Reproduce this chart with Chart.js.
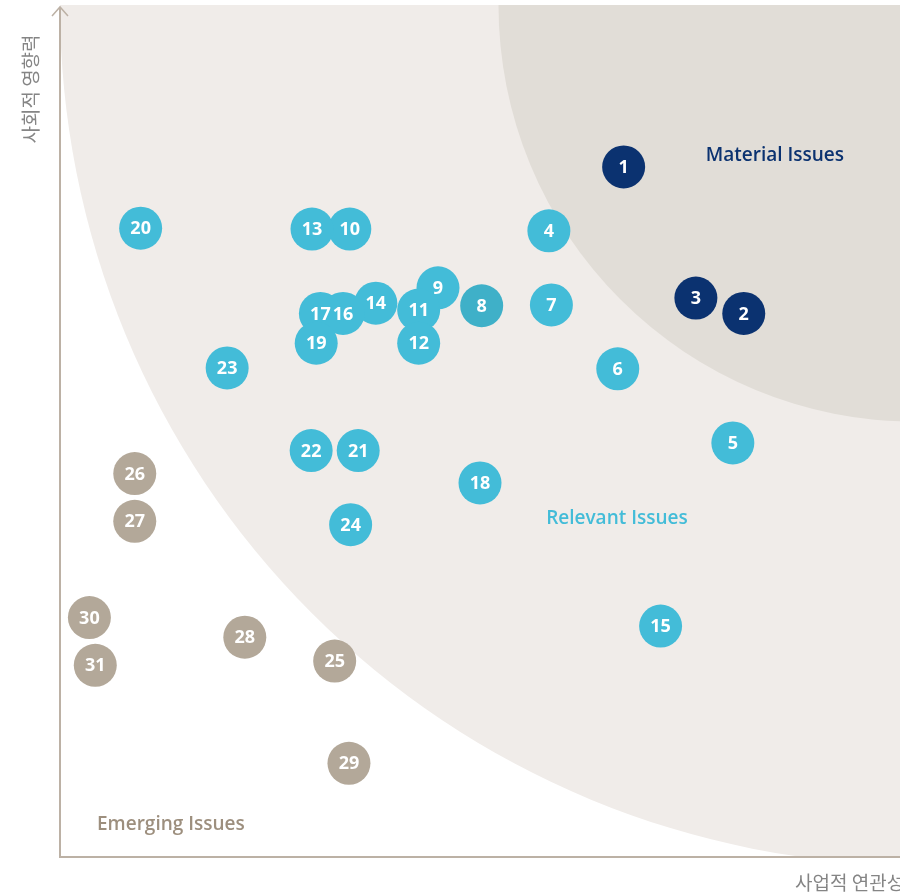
<!DOCTYPE html>
<html>
<head>
<meta charset="utf-8">
<script src="https://cdn.jsdelivr.net/npm/chart.js@4"></script>
<style>
  html, body { margin: 0; padding: 0; background: #fff; }
  #wrap { width: 900px; height: 896px; }
</style>
</head>
<body>
<div id="wrap"><canvas id="matrixChart" width="900" height="896"></canvas></div>
<script>
// issue numbers and their scores (0-100 on both axes)
const materialIds = [1, 2, 3];
const materialX   = [67.1, 81.4, 75.7];
const materialY   = [81.0, 63.8, 65.6];

const relevantIds = [4, 5, 6, 7, 9, 10, 11, 12, 13, 14, 15, 16, 17, 18, 19, 20, 21, 22, 23, 24, 8];
const relevantX   = [58.2, 80.1, 66.4, 58.5, 45.0, 34.5, 42.7, 42.7, 30.0, 37.6, 71.5, 33.7, 31.0, 50.0, 30.5, 9.6, 35.5, 29.9, 19.9, 34.6, 50.2];
const relevantY   = [73.5, 48.6, 57.3, 64.8, 66.8, 73.7, 64.2, 60.3, 73.7, 65.0, 27.1, 63.8, 63.8, 43.9, 60.3, 73.8, 47.7, 47.7, 57.4, 39.0, 64.7];

const emergingIds = [25, 26, 27, 28, 29, 30, 31];
const emergingX   = [32.7, 8.9, 8.9, 22.0, 34.4, 3.5, 4.2];
const emergingY   = [23.0, 45.0, 39.4, 25.8, 11.0, 28.1, 22.5];

const xTitle = '사업적 연관성';
const yTitle = '사회적 영향력';

// zone shapes (centre + radius in x units)
const zones = [
    { cx: 102.4, cy: 100, r: 102.4, color: '#f0ece9' },
    { cx: 101.8, cy: 100, r: 49.6, color: '#e1ddd7' }
];
const zoneLabels = [
    { text: 'Material Issues', x: 85.1, y: 82.3, color: '#0b3270' },
    { text: 'Relevant Issues', x: 66.3, y: 39.7, color: '#43bcd8' },
    { text: 'Emerging Issues', x: 13.2, y: 3.8, color: '#9d8f7e' }
];

const toPoints = (xs, ys, ids) => xs.map((x, i) => ({ x: x, y: ys[i], id: ids[i] }));

const zonePlugin = {
    id: 'zones',
    beforeDatasetsDraw(chart) {
        const ctx = chart.ctx, xs = chart.scales.x, ys = chart.scales.y, a = chart.chartArea;
        ctx.save();
        ctx.beginPath();
        ctx.rect(a.left, a.top, a.right - a.left, a.bottom - a.top);
        ctx.clip();
        zones.forEach(z => {
            const px = xs.getPixelForValue(z.cx), py = ys.getPixelForValue(z.cy);
            const rad = xs.getPixelForValue(z.cx) - xs.getPixelForValue(z.cx - z.r);
            ctx.fillStyle = z.color;
            ctx.beginPath();
            ctx.arc(px, py, rad, 0, Math.PI * 2);
            ctx.fill();
        });
        ctx.font = '600 19px "Open Sans"';
        ctx.textAlign = 'center';
        ctx.textBaseline = 'middle';
        zoneLabels.forEach(l => {
            ctx.fillStyle = l.color;
            ctx.fillText(l.text, xs.getPixelForValue(l.x), ys.getPixelForValue(l.y));
        });
        ctx.restore();

        // axes
        ctx.save();
        ctx.strokeStyle = '#bcb1a5';
        ctx.lineWidth = 2;
        ctx.beginPath();
        ctx.moveTo(a.left, a.top + 2);
        ctx.lineTo(a.left, a.bottom);
        ctx.lineTo(a.right, a.bottom);
        ctx.stroke();
        ctx.lineWidth = 1.5;
        ctx.beginPath();
        ctx.moveTo(a.left - 8, a.top + 11);
        ctx.lineTo(a.left, a.top + 2);
        ctx.lineTo(a.left + 8, a.top + 11);
        ctx.stroke();

        ctx.fillStyle = '#858585';
        ctx.font = '19px "Noto Sans CJK KR"';
        ctx.textBaseline = 'middle';
        ctx.textAlign = 'left';
        ctx.fillText(xTitle, 795, 883);
        ctx.translate(31, 89);
        ctx.rotate(-Math.PI / 2);
        ctx.textAlign = 'center';
        ctx.fillText(yTitle, 0, 0);
        ctx.restore();
    }
};

const labelPlugin = {
    id: 'bubbleLabels',
    afterDatasetsDraw(chart) {
        const ctx = chart.ctx;
        ctx.save();
        ctx.fillStyle = '#ffffff';
        ctx.font = '700 18px "Open Sans"';
        ctx.textAlign = 'center';
        ctx.textBaseline = 'middle';
        chart.data.datasets.forEach((ds, di) => {
            chart.getDatasetMeta(di).data.forEach((pt, i) => {
                ctx.fillText(String(ds.data[i].id), pt.x, pt.y + 1);
            });
        });
        ctx.restore();
    }
};

const relevantColors = relevantIds.map(id => id === 8 ? '#3fb0c8' : '#43bcd8');

new Chart(document.getElementById('matrixChart'), {
    type: 'scatter',
    data: {
        datasets: [
            {
                label: 'Emerging Issues',
                data: toPoints(emergingX, emergingY, emergingIds),
                backgroundColor: '#b3a899',
                pointRadius: 21.5,
                borderWidth: 0
            },
            {
                label: 'Relevant Issues',
                data: toPoints(relevantX, relevantY, relevantIds),
                backgroundColor: relevantColors,
                pointRadius: 21.5,
                borderWidth: 0
            },
            {
                label: 'Material Issues',
                data: toPoints(materialX, materialY, materialIds),
                backgroundColor: '#0b3270',
                pointRadius: 21.5,
                borderWidth: 0
            }
        ]
    },
    options: {
        responsive: false,
        animation: false,
        layout: { autoPadding: false, padding: { left: 60, top: 5, right: 0, bottom: 39 } },
        scales: {
            x: { type: 'linear', min: 0, max: 100, display: false },
            y: { type: 'linear', min: 0, max: 100, display: false }
        },
        plugins: {
            legend: { display: false },
            tooltip: { enabled: false }
        }
    },
    plugins: [zonePlugin, labelPlugin]
});
</script>
</body>
</html>
